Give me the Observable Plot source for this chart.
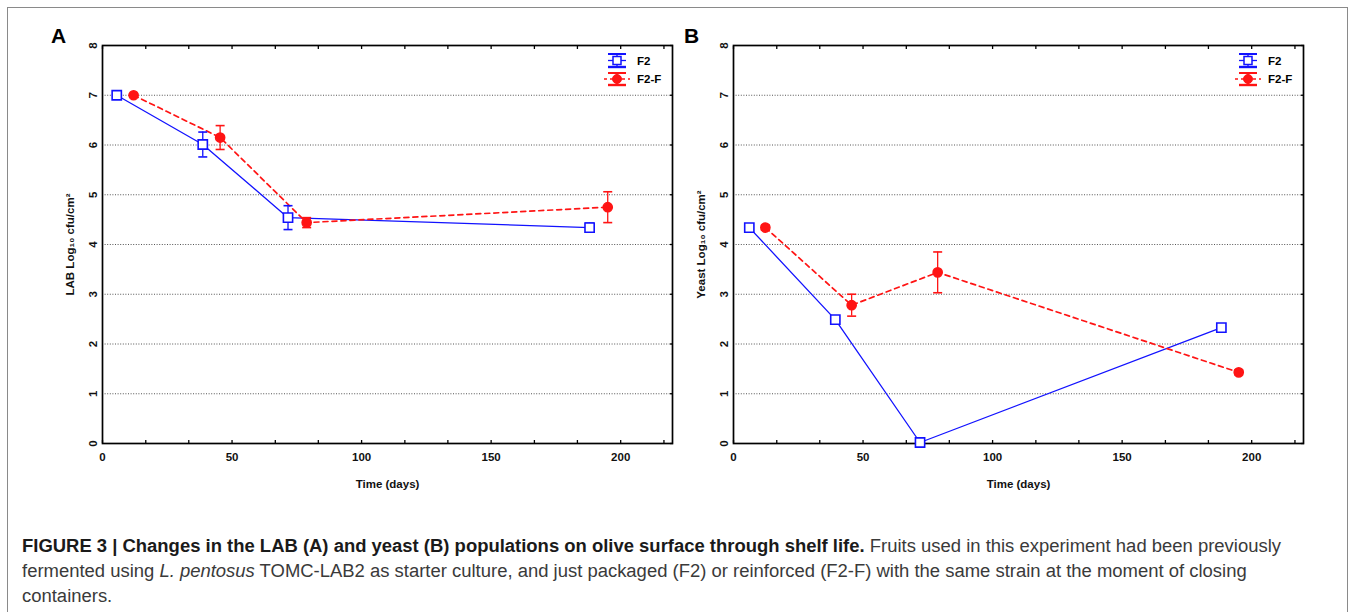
<!DOCTYPE html>
<html><head><meta charset="utf-8">
<script src="https://cdn.jsdelivr.net/npm/d3@7"></script>
<script src="https://cdn.jsdelivr.net/npm/@observablehq/plot@0.6"></script>
<style>
html,body{margin:0;padding:0;background:#fff;}
#fig{position:relative;width:1349px;height:612px;overflow:hidden;background:#fff;font-family:"Liberation Sans",Arial,sans-serif;}
#border{position:absolute;left:7px;top:7px;width:1341px;height:700px;border:1px solid #8a8a8a;box-sizing:border-box;pointer-events:none;z-index:5;}
.panel{position:absolute;top:0;}
.letter{position:absolute;top:24px;font:bold 21px "Liberation Sans",Arial,sans-serif;color:#000;}
#caption{position:absolute;left:22px;top:534px;font-family:"Liberation Sans Narrow","Arial Narrow","Liberation Sans",sans-serif;font-size:18px;line-height:25px;color:#3a3a3a;white-space:nowrap;transform-origin:0 0;}
#caption b{color:#1a1a1a;}
</style></head>
<body>
<div id="fig">
  <div id="border"></div>
  <div id="panelA" class="panel" style="left:0px"></div>
  <div id="panelB" class="panel" style="left:631px"></div>
  <div class="letter" style="left:51px">A</div>
  <div class="letter" style="left:684px">B</div>
  <div id="caption">
    <div><span id="l1"><b>FIGURE 3 | Changes in the LAB (A) and yeast (B) populations on olive surface through shelf life.</b> Fruits used in this experiment had been previously</span></div>
    <div>fermented using <i>L. pentosus</i> TOMC-LAB2 as starter culture, and just packaged (F2) or reinforced (F2-F) with the same strain at the moment of closing</div>
    <div>containers.</div>
  </div>
</div>
<script>
// ---- data ----
const seriesNames = ["F2", "F2-F"];
const xTicks = [0, 50, 100, 150, 200];
const xMinorTicks = [0, 16.7, 33.3, 50, 66.7, 83.3, 100, 116.7, 133.3, 150, 166.7, 183.3, 200, 216.7];
const yTicks = [0, 1, 2, 3, 4, 5, 6, 7, 8];
const yGrid = [1, 2, 3, 4, 5, 6, 7];
const xDomain = [0, 220];
const yDomain = [0, 8];

// Panel A: LAB
const labDaysF2 = [5.5, 38.7, 71.6, 188];
const labF2 = [7.0, 6.01, 4.54, 4.34];
const labErrF2 = [0.03, 0.25, 0.24, 0.09];
const labDaysF2F = [12, 45.4, 78.8, 195];
const labF2F = [7.0, 6.15, 4.44, 4.75];
const labErrF2F = [0.03, 0.24, 0.1, 0.31];

// Panel B: Yeast
const yeastDaysF2 = [6.1, 39.3, 72, 188.3];
const yeastF2 = [4.34, 2.49, 0.02, 2.33];
const yeastErrF2 = [0.05, 0.05, 0.03, 0.05];
const yeastDaysF2F = [12.3, 45.6, 78.8, 195];
const yeastF2F = [4.34, 2.78, 3.44, 1.43];
const yeastErrF2F = [0.05, 0.22, 0.41, 0.05];

const BLUE = "#1212ff", RED = "#ff1414";
const FONT = "'Liberation Sans', Arial, sans-serif";

function rows(days, vals, errs) { return days.map((d, i) => ({day: d, v: vals[i], e: errs[i]})); }
const capSymbol = {draw(ctx, size) { const w = Math.sqrt(size / Math.PI); ctx.moveTo(-w, 0); ctx.lineTo(w, 0); }};

const W = 680, H = 500, ML = 102, MR = 8, MT = 45, MB = 57;

function panel(yLabel, f2, f2f) {
  const errMarks = (data, color) => [
    Plot.ruleX(data, {x: "day", y1: d => d.v - d.e, y2: d => d.v + d.e, stroke: color, strokeWidth: 1.3}),
    Plot.dot(data, {x: "day", y: d => d.v + d.e, symbol: capSymbol, r: 4.5, fill: "none", stroke: color, strokeWidth: 1.6}),
    Plot.dot(data, {x: "day", y: d => d.v - d.e, symbol: capSymbol, r: 4.5, fill: "none", stroke: color, strokeWidth: 1.6})
  ];
  const svg = Plot.plot({
    width: W, height: H,
    marginLeft: ML, marginRight: MR, marginTop: MT, marginBottom: MB,
    style: {background: "transparent", fontFamily: FONT, fontSize: "11.5px", color: "#000", overflow: "visible"},
    x: {domain: xDomain},
    y: {domain: yDomain},
    marks: [
      Plot.gridY(yGrid, {stroke: "#555", strokeOpacity: 1, strokeDasharray: "1,1.6", strokeWidth: 1}),
      Plot.axisX(xMinorTicks, {anchor: "bottom", tickSize: -3, text: null, label: null, strokeWidth: 1.3}),
      Plot.axisX(xMinorTicks, {anchor: "top", tickSize: -3, text: null, label: null, strokeWidth: 1.3}),
      Plot.axisY(yTicks, {anchor: "right", tickSize: -3, text: null, label: null, strokeWidth: 1.3}),
      Plot.axisX(xTicks, {anchor: "bottom", tickSize: 0, tickPadding: 9, fontWeight: "bold", fill: "#111",
        tickFormat: d => String(d),
        label: "Time (days)", labelAnchor: "center", labelArrow: "none", labelOffset: 44}),
      Plot.axisY(yTicks, {anchor: "left", tickSize: 0, tickPadding: 6, tickRotate: -90, fontWeight: "bold", fill: "#111",
        tickFormat: d => String(d),
        label: yLabel, labelAnchor: "center", labelArrow: "none", labelOffset: 37}),
      Plot.frame({stroke: "#000", strokeWidth: 1.7}),
      Plot.line(f2, {x: "day", y: "v", stroke: BLUE, strokeWidth: 1.3}),
      Plot.line(f2f, {x: "day", y: "v", stroke: RED, strokeWidth: 1.7, strokeDasharray: "5,4"}),
      ...errMarks(f2, BLUE),
      ...errMarks(f2f, RED),
      Plot.dot(f2, {x: "day", y: "v", symbol: "square", r: 5.2, fill: "white", stroke: BLUE, strokeWidth: 1.6}),
      Plot.dot(f2f, {x: "day", y: "v", symbol: "circle", r: 4.6, fill: RED, stroke: RED})
    ]
  });
  addLegend(svg);
  return svg;
}

function addLegend(svg) {
  const xr = W - MR, yt = MT;
  const cx = xr - 55, tx = xr - 35;
  const g = d3.select(svg).append("g").attr("font-family", FONT).attr("font-size", 11.5)
    .attr("font-weight", "bold").attr("text-anchor", "start");
  // F2
  const a = g.append("g").attr("stroke", BLUE).attr("fill", "none");
  a.append("line").attr("x1", cx - 9).attr("x2", cx + 9).attr("y1", yt + 9).attr("y2", yt + 9).attr("stroke-width", 2);
  a.append("line").attr("x1", cx - 9).attr("x2", cx + 9).attr("y1", yt + 22).attr("y2", yt + 22).attr("stroke-width", 2.4);
  a.append("line").attr("x1", cx).attr("x2", cx).attr("y1", yt + 9).attr("y2", yt + 22).attr("stroke-width", 1.3);
  a.append("line").attr("x1", cx - 9).attr("x2", cx + 9).attr("y1", yt + 15.5).attr("y2", yt + 15.5).attr("stroke-width", 1.3);
  a.append("rect").attr("x", cx - 4).attr("y", yt + 11.5).attr("width", 8).attr("height", 8).attr("fill", "white").attr("stroke-width", 1.5);
  g.append("text").attr("x", tx).attr("y", yt + 19.5).attr("fill", "#000").text(seriesNames[0]);
  // F2-F
  const b = g.append("g").attr("stroke", RED).attr("fill", "none");
  b.append("line").attr("x1", cx - 9).attr("x2", cx + 9).attr("y1", yt + 28).attr("y2", yt + 28).attr("stroke-width", 2);
  b.append("line").attr("x1", cx - 9).attr("x2", cx + 9).attr("y1", yt + 40).attr("y2", yt + 40).attr("stroke-width", 2.4);
  b.append("line").attr("x1", cx).attr("x2", cx).attr("y1", yt + 28).attr("y2", yt + 40).attr("stroke-width", 1.3);
  b.append("line").attr("x1", cx - 13).attr("x2", cx + 13).attr("y1", yt + 34).attr("y2", yt + 34).attr("stroke-width", 1.6).attr("stroke-dasharray", "3,3");
  b.append("circle").attr("cx", cx).attr("cy", yt + 34).attr("r", 4.5).attr("fill", RED);
  g.append("text").attr("x", tx).attr("y", yt + 38).attr("fill", "#000").text(seriesNames[1]);
}

document.getElementById("panelA").append(
  panel("LAB Log₁₀ cfu/cm²", rows(labDaysF2, labF2, labErrF2), rows(labDaysF2F, labF2F, labErrF2F)));
document.getElementById("panelB").append(
  panel("Yeast Log₁₀ cfu/cm²", rows(yeastDaysF2, yeastF2, yeastErrF2), rows(yeastDaysF2F, yeastF2F, yeastErrF2F)));

// fit caption width to the reference line length
const l1 = document.getElementById("l1");
const k = 1259 / l1.getBoundingClientRect().width;
document.getElementById("caption").style.transform = `scaleX(${k})`;
</script>
</body></html>
